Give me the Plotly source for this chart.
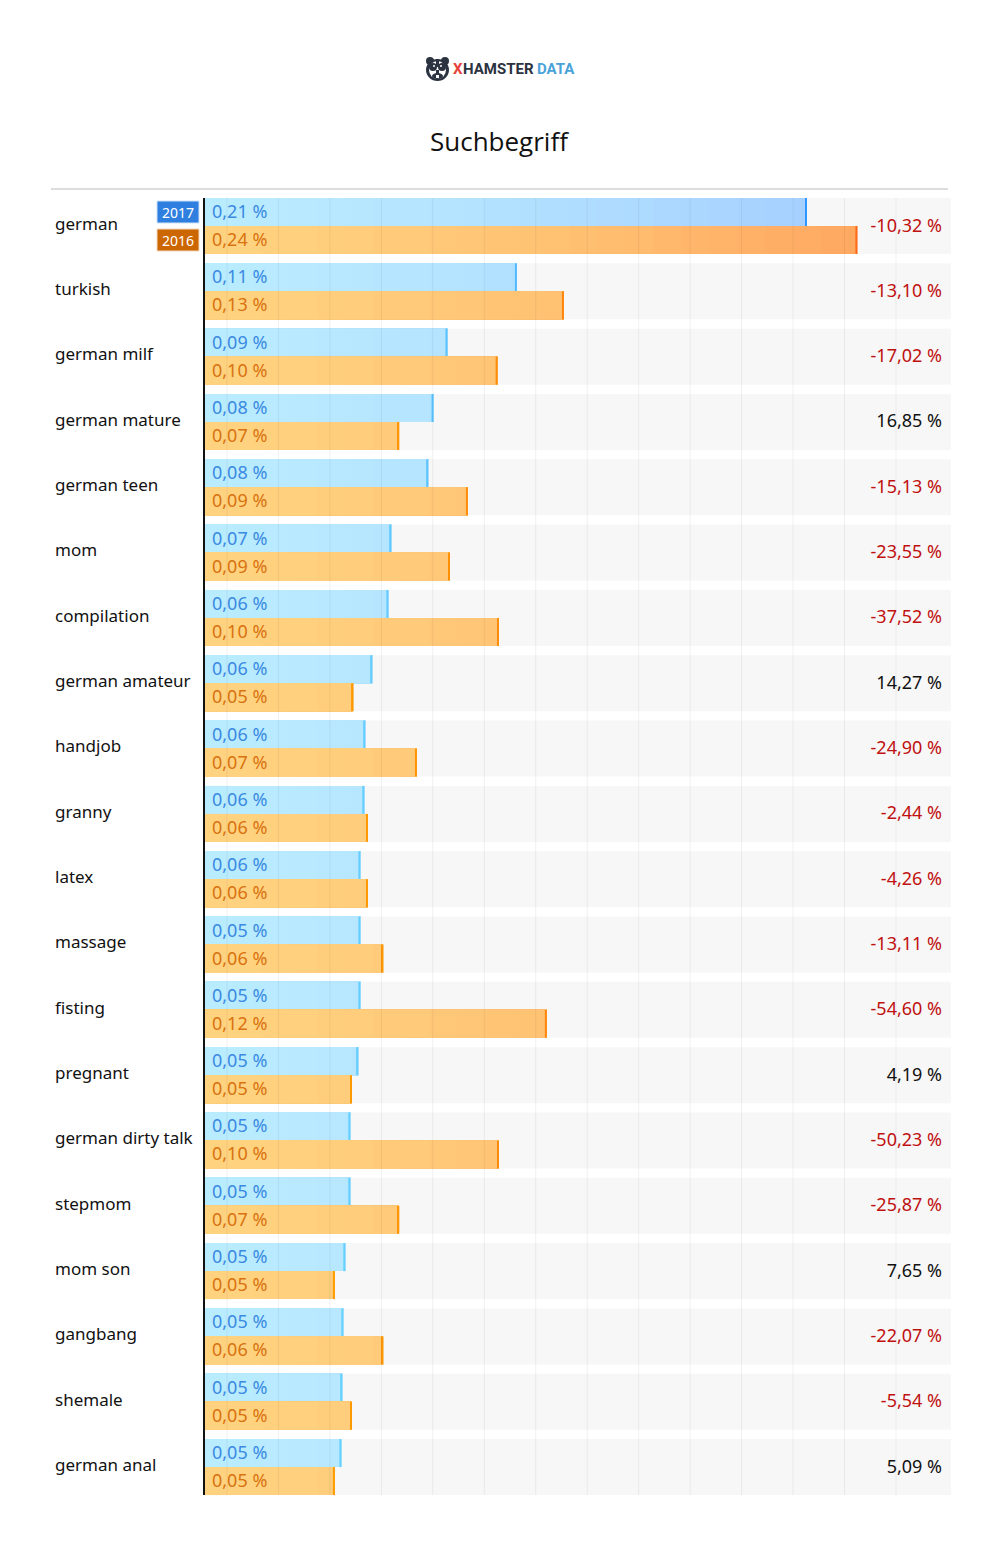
import plotly.graph_objects as go

# search terms, top to bottom
terms = ["german", "turkish", "german milf", "german mature", "german teen", "mom", "compilation",
         "german amateur", "handjob", "granny", "latex", "massage", "fisting", "pregnant",
         "german dirty talk", "stepmom", "mom son", "gangbang", "shemale", "german anal"]

# share of searches in %
share_2017 = [0.2150, 0.1114, 0.0866, 0.0816, 0.0797, 0.0665, 0.0655, 0.0597, 0.0572, 0.0569,
              0.0555, 0.0555, 0.0555, 0.0547, 0.0519, 0.0519, 0.0501, 0.0494, 0.0490, 0.0487]
share_2016 = [0.2330, 0.1282, 0.1045, 0.0693, 0.0939, 0.0875, 0.1050, 0.0529, 0.0757, 0.0582,
              0.0582, 0.0636, 0.1221, 0.0525, 0.1050, 0.0693, 0.0464, 0.0636, 0.0525, 0.0464]

labels_2017 = ["0,21 %", "0,11 %", "0,09 %", "0,08 %", "0,08 %", "0,07 %", "0,06 %", "0,06 %", "0,06 %", "0,06 %",
               "0,06 %", "0,05 %", "0,05 %", "0,05 %", "0,05 %", "0,05 %", "0,05 %", "0,05 %", "0,05 %", "0,05 %"]
labels_2016 = ["0,24 %", "0,13 %", "0,10 %", "0,07 %", "0,09 %", "0,09 %", "0,10 %", "0,05 %", "0,07 %", "0,06 %",
               "0,06 %", "0,06 %", "0,12 %", "0,05 %", "0,10 %", "0,07 %", "0,05 %", "0,06 %", "0,05 %", "0,05 %"]

change = ["-10,32 %", "-13,10 %", "-17,02 %", "16,85 %", "-15,13 %", "-23,55 %", "-37,52 %",
          "14,27 %", "-24,90 %", "-2,44 %", "-4,26 %", "-13,11 %", "-54,60 %", "4,19 %",
          "-50,23 %", "-25,87 %", "7,65 %", "-22,07 %", "-5,54 %", "5,09 %"]

W, H = 1008, 1551
PX_X = 2800.0    # pixels per % on the x axis
ROW = 65.32      # pixels per row
X0 = 205         # pixel of x = 0
Y0 = 226         # pixel of the first row centre
FONT = "Noto Sans"


def px_x(p):
    return (p - X0) / PX_X


def px_y(p):
    return (p - Y0) / ROW


def mix(c0, c1, t):
    t = max(0, min(1, t))
    return "rgb(%d,%d,%d)" % tuple(round(a + (b - a) * t) for a, b in zip(c0, c1))


def paper_x(p):
    return p / W


def paper_y(p):
    return 1 - p / H


rows = list(range(len(terms)))
fig = go.Figure()

# grey band behind each row
fig.add_trace(go.Bar(y=rows, x=[px_x(951)] * len(rows), orientation="h", width=56 / ROW, offset=-28 / ROW,
                     marker=dict(color="#f7f7f7", line_width=0)))

blue = dict(values=share_2017, offset=-28 / ROW, fill=((186, 236, 255), (163, 204, 255)),
            tip=((102, 208, 255), (42, 144, 255)))
orange = dict(values=share_2016, offset=0, fill=((255, 211, 128), (255, 168, 96)),
              tip=((255, 154, 0), (255, 106, 26)))

for s in [blue, orange]:
    # gradient along x: longest first, shorter ones paint over
    for k in range(24, 0, -1):
        t = k * 0.01
        fig.add_trace(go.Bar(y=rows, x=[min(v, t) for v in s["values"]], orientation="h",
                             width=28 / ROW, offset=s["offset"],
                             marker=dict(color=mix(s["fill"][0], s["fill"][1], (t / 0.24) ** 1.4), line_width=0)))
    tip = 2 / PX_X
    fig.add_trace(go.Bar(y=rows, x=[tip] * len(rows), base=[v - tip for v in s["values"]], orientation="h",
                         width=28 / ROW, offset=s["offset"],
                         marker=dict(color=[mix(s["tip"][0], s["tip"][1], (v - 0.05) / 0.18) for v in s["values"]],
                                     line_width=0)))

# term names
fig.add_trace(go.Scatter(x=[px_x(55)] * len(rows), y=[r - 0.5 / ROW for r in rows], text=terms, mode="text",
                         textposition="middle right", textfont=dict(family=FONT, size=17, color="#111111")))
# values inside the bars
fig.add_trace(go.Scatter(x=[px_x(212)] * len(rows), y=[r - 12.5 / ROW for r in rows], text=labels_2017, mode="text",
                         textposition="middle right", textfont=dict(family=FONT, size=18, color="#3a8ae2")))
fig.add_trace(go.Scatter(x=[px_x(212)] * len(rows), y=[r + 15.5 / ROW for r in rows], text=labels_2016, mode="text",
                         textposition="middle right", textfont=dict(family=FONT, size=18, color="#d9720f")))
# change 2016 -> 2017
fig.add_trace(go.Scatter(x=[px_x(942)] * len(rows), y=[r + 1 / ROW for r in rows], text=change, mode="text",
                         textposition="middle left",
                         textfont=dict(family=FONT, size=18,
                                       color=["#c01010" if c.startswith("-") else "#111111" for c in change])))

# vertical grid, drawn over the bars
top, bottom = paper_y(198), paper_y(1495)
for i in range(14):
    gx = paper_x(227 + i * 51.46)
    fig.add_shape(type="line", xref="paper", yref="paper", x0=gx, x1=gx, y0=bottom, y1=top, layer="above",
                  line=dict(color="rgba(0,0,0,0.06)", width=1))

# baseline and header rule
fig.add_shape(type="line", xref="paper", yref="paper", x0=paper_x(204), x1=paper_x(204), y0=bottom, y1=top,
              layer="above", line=dict(color="#111111", width=2))
fig.add_shape(type="line", xref="paper", yref="paper", x0=paper_x(51), x1=paper_x(948),
              y0=paper_y(189), y1=paper_y(189), line=dict(color="#dddddd", width=2))

# year badges
for year, y0, y1, color, edge in [("2017", 201, 223, "#2f7fe0", "#cfe2f8"), ("2016", 229, 251, "#cc6600", "#f3d9bd")]:
    fig.add_shape(type="rect", xref="paper", yref="paper", x0=paper_x(157), x1=paper_x(199),
                  y0=paper_y(y1), y1=paper_y(y0), fillcolor=color, line=dict(color=edge, width=1), layer="above")
    fig.add_annotation(xref="paper", yref="paper", x=paper_x(178), y=paper_y((y0 + y1) / 2), text=year,
                       xanchor="center", yanchor="middle", showarrow=False,
                       font=dict(family=FONT, size=14, color="white"))

# logo
dark = "#2b3240"
for kind, x0, y0, x1, y1, color in [("circle", 426, 57, 434, 65, dark), ("circle", 441, 57, 449, 65, dark),
                                    ("circle", 426, 59, 449, 81, dark), ("circle", 429, 61, 446, 79, "#ffffff"),
                                    ("circle", 429, 63, 437, 71, dark), ("circle", 438, 63, 446, 71, dark),
                                    ("circle", 433, 65, 435, 67, "#ffffff"), ("circle", 440, 65, 442, 67, "#ffffff"),
                                    ("rect", 436, 59, 439, 67, dark), ("rect", 436, 70, 439, 75, dark),
                                    ("circle", 432, 73, 443, 79, dark), ("rect", 436, 75, 439, 78, "#ffffff")]:
    fig.add_shape(type=kind, xref="paper", yref="paper", x0=paper_x(x0), x1=paper_x(x1),
                  y0=paper_y(y1), y1=paper_y(y0), fillcolor=color, line_width=0)
for text, x, color in [("X", 453, "#e8413c"), ("HAMSTER", 463, dark), ("DATA", 537, "#4aa3d8")]:
    fig.add_annotation(xref="paper", yref="paper", x=paper_x(x), y=paper_y(69), xanchor="left", yanchor="middle",
                       text="<b>" + text + "</b>", showarrow=False, borderpad=0, borderwidth=0,
                       font=dict(family="Roboto", size=15, color=color))

# title
fig.add_annotation(xref="paper", yref="paper", x=paper_x(499), y=paper_y(141), text="Suchbegriff", showarrow=False,
                   xanchor="center", yanchor="middle", font=dict(family="Open Sans", size=26, color="#111111"))

fig.update_layout(
    width=W, height=H, margin=dict(l=0, r=0, t=0, b=0, pad=0),
    barmode="overlay", showlegend=False, hovermode=False,
    paper_bgcolor="white", plot_bgcolor="white",
    xaxis=dict(range=[px_x(0), px_x(W)], visible=False, fixedrange=True),
    yaxis=dict(range=[px_y(H), px_y(0)], visible=False, fixedrange=True),
)

fig.write_html("out.html", config=dict(displayModeBar=False), post_script="document.body.style.margin='0';")
